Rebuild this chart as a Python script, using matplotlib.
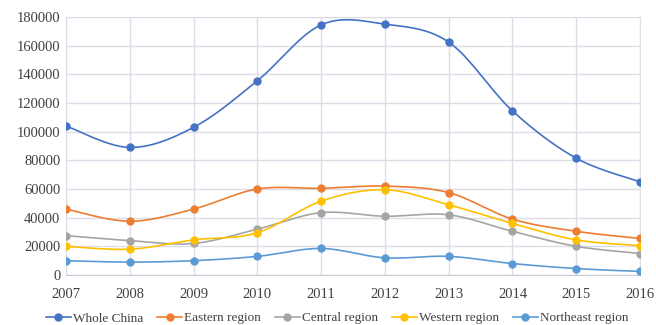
import numpy as np
import matplotlib
matplotlib.use("Agg")
import matplotlib.pyplot as plt

years = [2007, 2008, 2009, 2010, 2011, 2012, 2013, 2014, 2015, 2016]
whole_china = [104000, 89000, 103000, 135500, 174500, 175000, 162500, 114500, 81500, 65000]
eastern = [46000, 37500, 46000, 60000, 60500, 62000, 57500, 39000, 30500, 25500]
central = [27500, 24000, 22000, 32000, 43500, 41000, 42000, 30500, 20000, 15000]
western = [20000, 18000, 24500, 29500, 51500, 59500, 49000, 36000, 24500, 20500]
northeast = [10000, 9000, 10000, 13000, 18500, 12000, 13000, 8000, 4500, 2500]

series = [
    ("Whole China", whole_china, "#4472C4"),
    ("Eastern region", eastern, "#ED7D31"),
    ("Central region", central, "#A5A5A5"),
    ("Western region", western, "#FFC000"),
    ("Northeast region", northeast, "#5B9BD5"),
]


def smooth(x, y, n=30):
    # Excel-like smoothed line: cubic Bezier segments with Catmull-Rom handles
    x = np.asarray(x, float)
    y = np.asarray(y, float)
    px = np.concatenate([[x[0]], x, [x[-1]]])
    py = np.concatenate([[y[0]], y, [y[-1]]])
    t = np.linspace(0, 1, n)[:, None]
    xs, ys = [], []
    for i in range(1, len(px) - 2):
        p0 = np.array([px[i], py[i]])
        p3 = np.array([px[i + 1], py[i + 1]])
        c1 = p0 + (p3 - np.array([px[i - 1], py[i - 1]])) / 6
        c2 = p3 - (np.array([px[i + 2], py[i + 2]]) - p0) / 6
        pts = ((1 - t) ** 3) * p0 + 3 * ((1 - t) ** 2) * t * c1 + 3 * (1 - t) * t ** 2 * c2 + t ** 3 * p3
        xs.extend(pts[:, 0])
        ys.extend(pts[:, 1])
    return xs, ys


plt.rcParams["font.family"] = ["Liberation Serif", "DejaVu Serif"]

fig = plt.figure(figsize=(6.56, 3.25), dpi=100)
ax = fig.add_axes([0.1006, 0.1538, 0.875, 0.7939])

handles = []
for name, vals, col in series:
    sx, sy = smooth(years, vals)
    ax.plot(sx, sy, color=col, lw=1.2, zorder=3)
    ax.plot(years, vals, "o", color=col, ms=5, zorder=4)
    h, = ax.plot([], [], "-o", color=col, lw=1.2, ms=5, label=name)
    handles.append(h)

ax.set_xlim(2007, 2016)
ax.set_ylim(0, 180000)
ax.set_xticks(years)
ax.set_yticks(np.arange(0, 180001, 20000))
ax.grid(True, color="#DCDDE8", lw=1)
ax.set_axisbelow(True)
for s in ax.spines.values():
    s.set_color("#DCDDE8")
ax.spines["bottom"].set_color("#C8CAD8")
ax.tick_params(length=0, labelsize=10.5, colors="#404040")
ax.tick_params(axis="x", pad=9)
ax.tick_params(axis="y", pad=4)

fig.legend(handles=handles, loc="lower center", bbox_to_anchor=(0.514, -0.035), ncol=5,
           frameon=False, fontsize=9.5, handlelength=1.9, handletextpad=0.15,
           columnspacing=1.05, labelcolor="#404040")

fig.savefig("out.png", dpi=100)
